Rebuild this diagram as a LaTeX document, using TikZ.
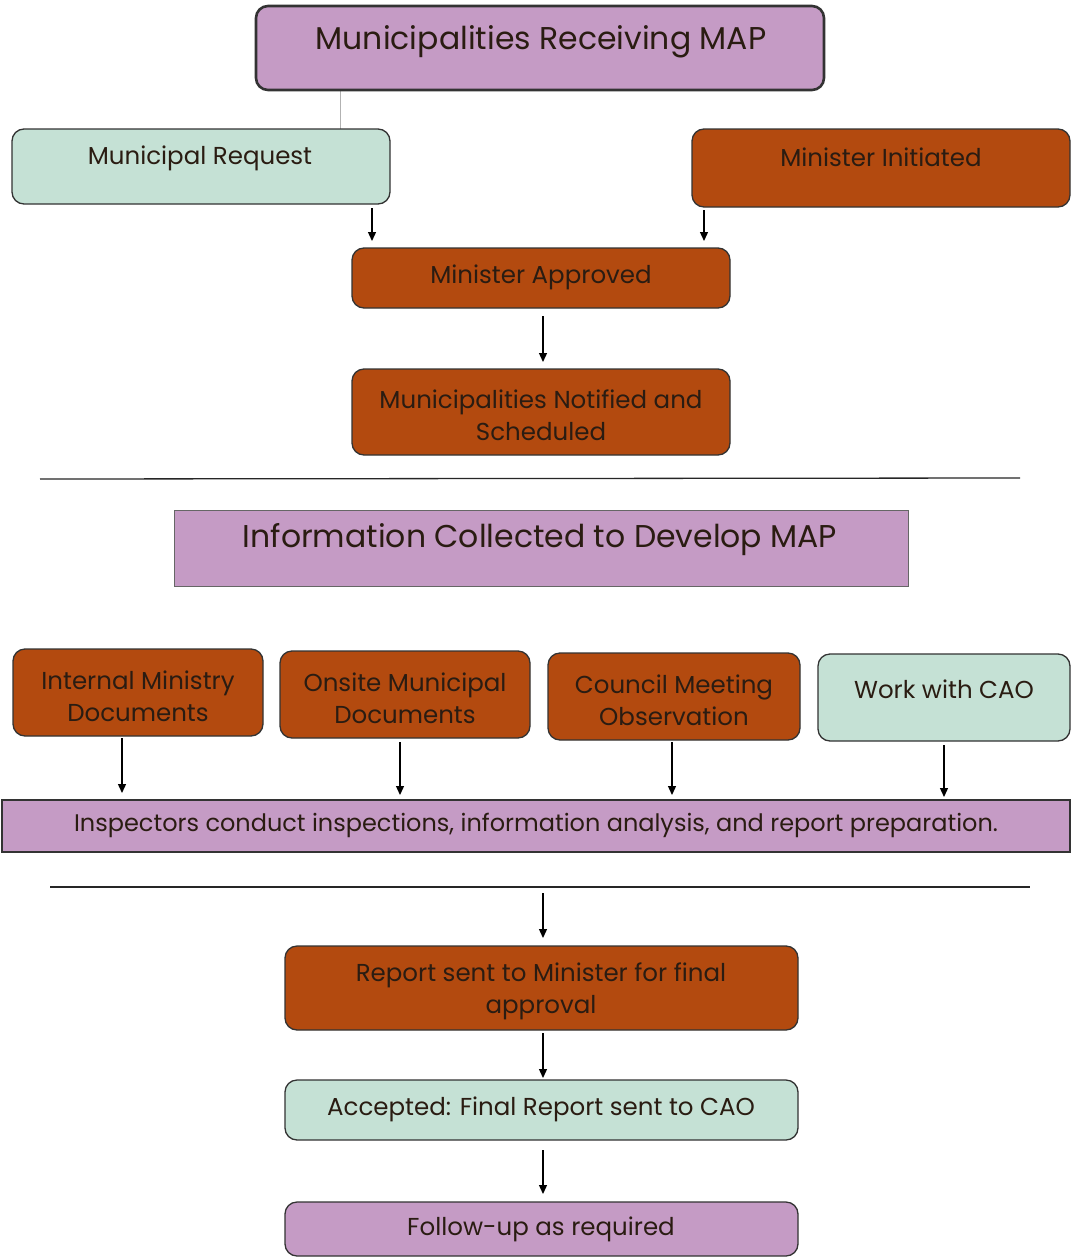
\documentclass[tikz,border=0pt]{standalone}
\usepackage{fontspec}
\setmainfont{Poppins}
\usetikzlibrary{arrows.meta}
\definecolor{purp}{HTML}{C59BC5}
\definecolor{teal}{HTML}{C5E1D5}
\definecolor{brn}{HTML}{B34A0F}
\definecolor{txtc}{HTML}{2A1C12}
\tikzset{
  box/.style={draw=black!80, line width=1.3pt, rounded corners=12pt, inner sep=0pt},
  rbox/.style={draw=black!80, line width=1.3pt, inner sep=0pt},
  txt/.style={text=txtc, font=\fontsize{24.5}{32}\selectfont, align=center, inner sep=0pt},
  arr/.style={line width=1.3pt, -{Triangle[width=8pt,length=9pt]}},
  sep/.style={line width=1.3pt, black!85}
}
\begin{document}
\begin{tikzpicture}[x=1pt,y=-1pt]
\useasboundingbox[fill=white] (0,0) rectangle (1073,1258);
% top
\draw[line width=0.6pt, black!30] (340,91) -- (340,129);
\path[box, fill=purp, line width=2.6pt] (256,6) rectangle (824,90) node[pos=.5] (top) {};
\node[txt, font=\fontsize{31.5}{36}\selectfont] (ttop) at (541,42) {Municipalities Receiving MAP};
% row 2
\path[box, fill=teal] (12,129) rectangle (390,204) node[pos=.5] (mr) {};
\node[txt] (tmr) at (200,158) {Municipal Request};
\path[box, fill=brn] (692,129) rectangle (1070,207) node[pos=.5] (mi) {};
\node[txt] (tmi) at (881,157) {Minister Initiated};
\path[box, fill=brn] (352,248) rectangle (730,308) node[pos=.5] (ma) {};
\node[txt] (tma) at (541,277) {Minister Approved};
\coordinate (a1s) at (372,208); \coordinate (a1e) at (372,241);
\coordinate (a2s) at (704,210); \coordinate (a2e) at (704,241);
\draw[arr] (a1s) -- (a1e);
\draw[arr] (a2s) -- (a2e);
\path[box, fill=brn] (352,369) rectangle (730,455) node[pos=.5] (mn) {};
\node[txt] (tmn) at (541,415) {Municipalities Notified and\\Scheduled};
\draw[arr] (543,316) -- (543,362);
\draw[sep] (40,479) -- (1020,478);
% info
\path[rbox, fill=purp, draw=black!60, line width=1pt] (174,510) rectangle (908,586) node[pos=.5] (info) {};
\node[txt, font=\fontsize{31.5}{36}\selectfont] (tinfo) at (540,540) {Information Collected to Develop MAP};
% four
\path[box, fill=brn] (13,649) rectangle (263,736) node[pos=.5] (imd) {};
\node[txt] (timd) at (138,696) {Internal Ministry\\Documents};
\path[box, fill=brn] (280,651) rectangle (530,738) node[pos=.5] (omd) {};
\node[txt] (tomd) at (405,698) {Onsite Municipal\\Documents};
\path[box, fill=brn] (548,653) rectangle (800,740) node[pos=.5] (cmo) {};
\node[txt] (tcmo) at (674,700) {Council Meeting\\Observation};
\path[box, fill=teal] (818,654) rectangle (1070,741) node[pos=.5] (cao) {};
\node[txt] (tcao) at (944,689) {Work with CAO};
\path[rbox, fill=purp] (2,800) rectangle (1070,852) node[pos=.5] (insp) {};
\node[txt, font=\fontsize{24}{30}\selectfont] (tinsp) at (536,825) {Inspectors conduct inspections, information analysis, and report preparation.};
\draw[arr] (122,738) -- (122,793);
\draw[arr] (400,742) -- (400,795);
\draw[arr] (672,742) -- (672,795);
\draw[arr] (944,745) -- (944,797);
\draw[sep] (50,887) -- (1030,887);
% bottom
\draw[arr] (543,893) -- (543,938);
\path[box, fill=brn] (285,946) rectangle (798,1030) node[pos=.5] (rep) {};
\node[txt] (trep) at (541,991) {Report sent to Minister for final\\approval};
\draw[arr] (543,1033) -- (543,1078);
\path[box, fill=teal] (285,1080) rectangle (798,1140) node[pos=.5] (acc) {};
\node[txt] (tacc) at (541,1109) {Accepted: Final Report sent to CAO};
\draw[arr] (543,1150) -- (543,1194);
\path[box, fill=purp] (285,1202) rectangle (798,1256) node[pos=.5] (fol) {};
\node[txt] (tfol) at (541,1229) {Follow-up as required};
\end{tikzpicture}
\end{document}
